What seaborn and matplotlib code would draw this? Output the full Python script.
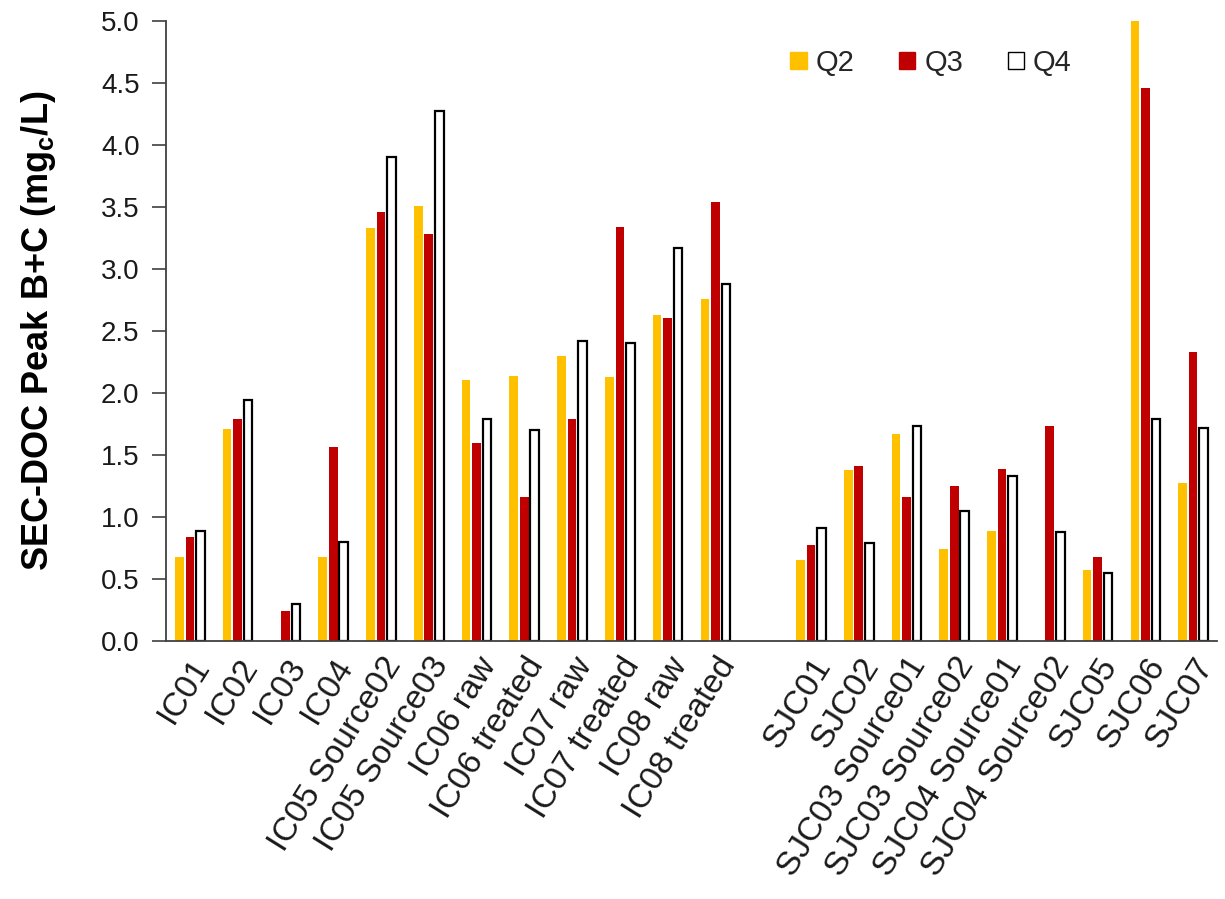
import pandas as pd
import matplotlib
matplotlib.use("Agg")
import matplotlib.pyplot as plt
from matplotlib.patches import Patch
import seaborn as sns

# sample sites (blank entry = gap between the IC and SJC groups)
sites = ["IC01", "IC02", "IC03", "IC04", "IC05 Source02", "IC05 Source03",
         "IC06 raw", "IC06 treated", "IC07 raw", "IC07 treated", "IC08 raw",
         "IC08 treated", " ", "SJC01", "SJC02", "SJC03 Source01",
         "SJC03 Source02", "SJC04 Source01", "SJC04 Source02", "SJC05",
         "SJC06", "SJC07"]

quarters = ["Q2", "Q3", "Q4"]

q2 = [0.68, 1.71, 0.00, 0.68, 3.33, 3.51, 2.10, 2.14, 2.30, 2.13, 2.63, 2.76,
      None, 0.65, 1.38, 1.67, 0.74, 0.89, 0.00, 0.57, 5.00, 1.27]
q3 = [0.84, 1.79, 0.24, 1.56, 3.46, 3.28, 1.60, 1.16, 1.79, 3.34, 2.60, 3.54,
      None, 0.77, 1.41, 1.16, 1.25, 1.39, 1.73, 0.68, 4.46, 2.33]
q4 = [0.89, 1.94, 0.30, 0.80, 3.90, 4.27, 1.79, 1.70, 2.42, 2.40, 3.17, 2.88,
      None, 0.91, 0.79, 1.73, 1.05, 1.33, 0.88, 0.55, 1.79, 1.72]

colors = {"Q2": "#FFC000", "Q3": "#C00000", "Q4": "#FFFFFF"}

rows = []
for q, vals in zip(quarters, [q2, q3, q4]):
    for s, v in zip(sites, vals):
        if v is not None:
            rows.append({"site": s, "quarter": q, "value": v})
df = pd.DataFrame(rows)

sns.set_style("white")
plt.rcParams["font.family"] = ["Liberation Sans", "DejaVu Sans"]
plt.rcParams["mathtext.fontset"] = "custom"
plt.rcParams["mathtext.rm"] = "Liberation Sans"
plt.rcParams["mathtext.bf"] = "Liberation Sans:bold"

fig = plt.figure(figsize=(12.25, 8.99), dpi=100)
ax = fig.add_axes([166 / 1225, 1 - 641 / 899, (1217 - 166) / 1225, (641 - 20.7) / 899])

sns.barplot(data=df, x="site", y="value", hue="quarter", order=sites,
            hue_order=quarters, palette=colors, saturation=1, width=0.66, gap=0.18,
            linewidth=0, errorbar=None, legend=False, ax=ax)

# Q4 bars are hollow with a black outline
for bar in ax.containers[2]:
    bar.set_edgecolor("black")
    bar.set_linewidth(1.6)

ax.set_ylim(0, 5.0)
ax.set_xlim(-0.5, len(sites) - 0.5)
ax.set_yticks([0, 0.5, 1, 1.5, 2, 2.5, 3, 3.5, 4, 4.5, 5])
ax.set_yticklabels([f"{t:.1f}" for t in ax.get_yticks()], fontsize=20, color="#1a1a1a")
ax.set_xlabel("")
ax.set_ylabel(r"SEC-DOC Peak B+C (mg$_{\mathbf{c}}$/L)", fontsize=26,
              fontweight="bold", color="black", labelpad=31)

ax.set_xticks(range(len(sites)))
ax.set_xticklabels(sites, rotation=58, ha="right", rotation_mode="anchor",
                   fontsize=24, color="#1a1a1a")

for side in ["top", "right"]:
    ax.spines[side].set_visible(False)
for side in ["left", "bottom"]:
    ax.spines[side].set_color("#404040")
    ax.spines[side].set_linewidth(1.3)
ax.tick_params(axis="y", direction="out", length=10, width=1.2, color="#404040", pad=9, left=True)
ax.tick_params(axis="x", length=0, pad=8)

handles = [Patch(facecolor=colors[q], edgecolor="black" if q == "Q4" else colors[q],
                 linewidth=1.0) for q in quarters]
ax.legend(handles, quarters, loc="center", bbox_to_anchor=(0.728, 0.932), ncol=3,
          frameon=False, fontsize=21, handlelength=0.55, handleheight=0.55,
          handletextpad=0.3, columnspacing=1.55)

plt.savefig("out.png", dpi=100)
plt.close()
